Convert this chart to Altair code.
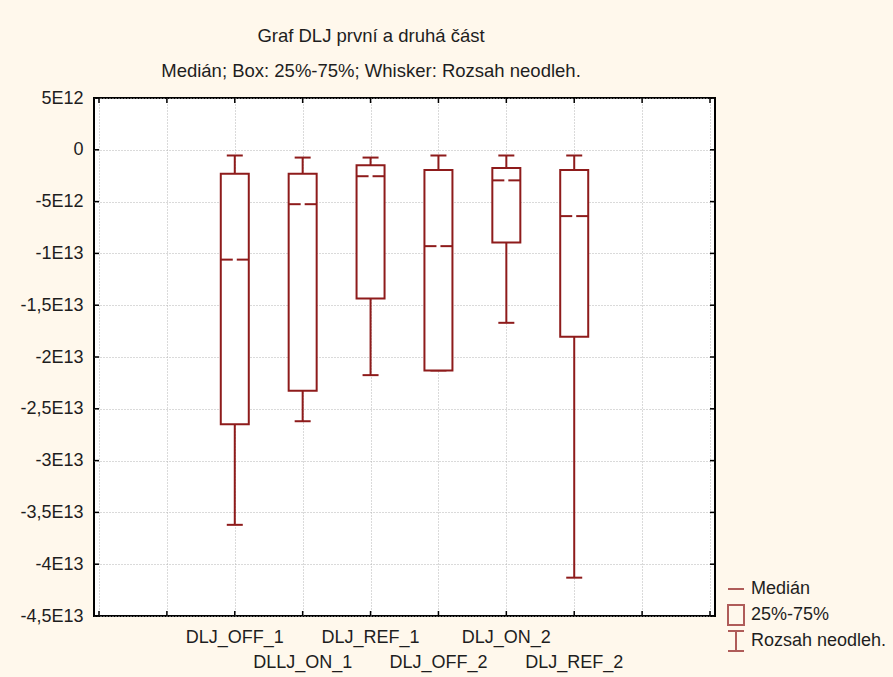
import altair as alt
import numpy as np
import pandas as pd

# Box-plot summary per measurement group
CATEGORIES = ["DLJ_OFF_1", "DLLJ_ON_1", "DLJ_REF_1", "DLJ_OFF_2", "DLJ_ON_2", "DLJ_REF_2"]
WHISKER_MIN = [-36.2e12, -26.2e12, -21.75e12, -21.3e12, -16.7e12, -41.3e12]
Q1 = [-26.5e12, -23.25e12, -14.35e12, -21.3e12, -8.95e12, -18.05e12]
MEDIAN = [-10.6e12, -5.25e12, -2.55e12, -9.3e12, -2.95e12, -6.4e12]
Q3 = [-2.3e12, -2.3e12, -1.5e12, -1.95e12, -1.75e12, -1.95e12]
WHISKER_MAX = [-0.55e12, -0.75e12, -0.75e12, -0.55e12, -0.55e12, -0.55e12]

# Axis ticks and their labels
Y_TICKS = [5_000_000_000_000 - 5_000_000_000_000 * i for i in range(11)]
Y_TICK_LABELS = ["5E12", "0", "-5E12", "-1E13", "-1,5E13", "-2E13",
                 "-2,5E13", "-3E13", "-3,5E13", "-4E13", "-4,5E13"]
X_SLOTS = list(range(10))

LEGEND_LABELS = ["Medián", "25%-75%", "Rozsah neodleh."]
LEGEND_SYMBOLS = [
    "M-1,0H1",
    "M-1,-1.25H1V1.25H-1Z",
    "M-1,-1.25H1M0,-1.25V1.25M-1,1.25H1",
]

TITLE_LINES = ["Graf DLJ první a druhá část",
               "Medián; Box: 25%-75%; Whisker: Rozsah neodleh."]

RED = "#8E1B1B"
INK = "#1E1E1E"
FONT = "Liberation Sans"
W, H = 621, 518

df = pd.DataFrame({
    "cat": CATEGORIES,
    "pos": np.arange(len(CATEGORIES)) + 2,
    "row": np.arange(len(CATEGORIES)) % 2,
    "lo": WHISKER_MIN,
    "q1": Q1,
    "med": MEDIAN,
    "q3": Q3,
    "hi": WHISKER_MAX,
})

xscale = alt.Scale(domain=[0, 9], nice=False, zero=False)
yscale = alt.Scale(domain=[Y_TICKS[-1], Y_TICKS[0]], nice=False, zero=False)

label_expr = " : ".join(
    f"datum.value == {v} ? '{t}'" for v, t in zip(Y_TICKS, Y_TICK_LABELS)
) + " : ''"

x_axis = alt.Axis(values=X_SLOTS, labels=False, ticks=False, domain=False,
                  grid=True, title=None)
y_axis = alt.Axis(values=Y_TICKS, labelExpr=label_expr, ticks=False, domain=False,
                  grid=True, title=None, labelPadding=11, labelFontSize=18,
                  labelColor=INK, labelFont=FONT)

X = alt.X("pos:Q", scale=xscale, axis=x_axis)

whisker = alt.Chart(df).mark_rule(color=RED, strokeWidth=2).encode(
    x=X,
    y=alt.Y("lo:Q", scale=yscale, axis=y_axis),
    y2="hi:Q",
)

cap_lo = alt.Chart(df).mark_tick(orient="horizontal", size=16, thickness=2,
                                 color=RED, opacity=1).encode(x="pos:Q", y="lo:Q")
cap_hi = alt.Chart(df).mark_tick(orient="horizontal", size=16, thickness=2,
                                 color=RED, opacity=1).encode(x="pos:Q", y="hi:Q")

box = alt.Chart(df).mark_bar(size=28, fill="white", stroke=RED, strokeWidth=2,
                             orient="vertical").encode(x="pos:Q", y="q1:Q", y2="q3:Q")

median = alt.Chart(df).mark_tick(orient="horizontal", size=28, thickness=2,
                                 color=RED, opacity=1).encode(x="pos:Q", y="med:Q")
median_gap = alt.Chart(df).mark_tick(orient="horizontal", size=4, thickness=4,
                                     color="white", opacity=1).encode(x="pos:Q", y="med:Q")

# Category names, staggered on two rows below the frame
cat_row1 = alt.Chart(df).transform_filter("datum.row == 0").mark_text(
    fontSize=18, font=FONT, color=INK, baseline="middle").encode(
    x="pos:Q", y=alt.value(H + 22), text="cat:N")
cat_row2 = alt.Chart(df).transform_filter("datum.row == 1").mark_text(
    fontSize=18, font=FONT, color=INK, baseline="middle").encode(
    x="pos:Q", y=alt.value(H + 47), text="cat:N")

# Two-line heading above the frame
title_df = pd.DataFrame({"t": TITLE_LINES, "line": [0, 1]})
title_l1 = alt.Chart(title_df).transform_filter("datum.line == 0").mark_text(
    fontSize=18.5, font=FONT, color=INK, baseline="alphabetic", align="center").encode(
    x=alt.value(277), y=alt.value(-56), text="t:N")
title_l2 = alt.Chart(title_df).transform_filter("datum.line == 1").mark_text(
    fontSize=18.5, font=FONT, color=INK, baseline="alphabetic", align="center").encode(
    x=alt.value(277), y=alt.value(-21), text="t:N")

# Inward tick marks on all four sides of the frame
yt = pd.DataFrame({"v": Y_TICKS})
xt = pd.DataFrame({"p": X_SLOTS})
tick_l = alt.Chart(yt).mark_rule(color="black", strokeWidth=1.5).encode(
    y="v:Q", x=alt.value(0), x2=alt.value(5))
tick_r = alt.Chart(yt).mark_rule(color="black", strokeWidth=1.5).encode(
    y="v:Q", x=alt.value(W - 5), x2=alt.value(W))
tick_b = alt.Chart(xt).mark_rule(color="black", strokeWidth=1.5).encode(
    x="p:Q", y=alt.value(H - 5), y2=alt.value(H))
tick_t = alt.Chart(xt).mark_rule(color="black", strokeWidth=1.5).encode(
    x="p:Q", y=alt.value(0), y2=alt.value(5))

# Legend driven by a shape scale with custom symbols
leg_df = pd.DataFrame({"k": LEGEND_LABELS})
legend_layer = alt.Chart(leg_df).transform_filter("false").mark_point(
    color=RED, filled=False, strokeWidth=2).encode(
    x="pos:Q",
    shape=alt.Shape("k:N",
                    scale=alt.Scale(domain=LEGEND_LABELS, range=LEGEND_SYMBOLS),
                    legend=alt.Legend(title=None, orient="none", legendX=633,
                                      legendY=479, padding=0, labelFontSize=18,
                                      labelFont=FONT, labelColor=INK, labelOffset=6,
                                      rowPadding=2, clipHeight=24, symbolSize=256,
                                      symbolStrokeWidth=2, symbolStrokeColor=RED,
                                      symbolFillColor="transparent")),
)

chart = alt.layer(
    whisker, cap_lo, cap_hi, box, median, median_gap,
    tick_l, tick_r, tick_b, tick_t,
    cat_row1, cat_row2, title_l1, title_l2, legend_layer,
).properties(
    width=W,
    height=H,
    autosize=alt.AutoSizeParams(type="none"),
    padding={"left": 94, "top": 98, "right": 178, "bottom": 61},
).configure(
    background="#FFF8EC",
    font=FONT,
).configure_view(
    fill="white", stroke="black", strokeWidth=2,
).configure_axis(
    gridColor="#B4B4B4", gridDash=[1, 2], gridWidth=1,
)

chart.save("out.html", embed_options={"renderer": "svg", "actions": False})
